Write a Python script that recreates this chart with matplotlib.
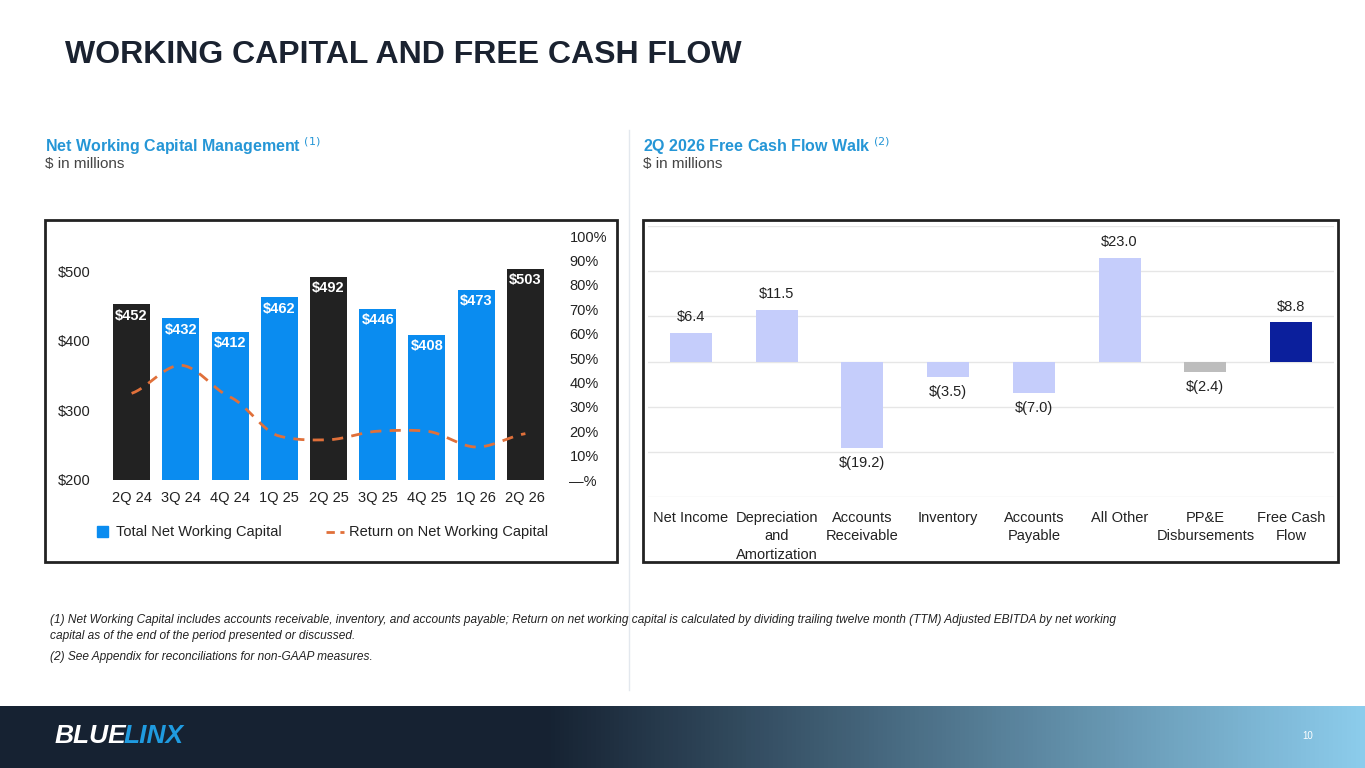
import numpy as np
import matplotlib
matplotlib.use("Agg")
import matplotlib.pyplot as plt
from matplotlib.patches import Rectangle

plt.rcParams['font.family'] = ['Liberation Sans', 'DejaVu Sans']

quarters = ["2Q 24", "3Q 24", "4Q 24", "1Q 25", "2Q 25", "3Q 25", "4Q 25", "1Q 26", "2Q 26"]
nwc = [452, 432, 412, 462, 492, 446, 408, 473, 503]
ronwc = [35.5, 47, 34, 18, 16.5, 20, 20, 13.5, 19]
highlight = [True, False, False, False, True, False, False, False, True]

walk_cats = ["Net Income", "Depreciation\nand\nAmortization", "Accounts\nReceivable", "Inventory",
             "Accounts\nPayable", "All Other", "PP&E\nDisbursements", "Free Cash\nFlow"]
walk_vals = [6.4, 11.5, -19.2, -3.5, -7.0, 23.0, -2.4, 8.8]

W, H = 1365, 768
fig = plt.figure(figsize=(W/100, H/100), dpi=100)

def ax_px(x0, y0, x1, y1, **kw):
    return fig.add_axes([x0/W, 1-y1/H, (x1-x0)/W, (y1-y0)/H], **kw)

# background
bg = ax_px(0, 0, W, H)
bg.set_xlim(0, W); bg.set_ylim(H, 0); bg.axis('off')
grad = np.linspace(0, 1, 300)
c0 = np.array([0x16, 0x22, 0x32]) / 255
c1 = np.array([0x8c, 0xcc, 0xec]) / 255
t = np.clip((grad - 0.4) / 0.6, 0, 1)
cols = c0[None, :] * (1 - t[:, None]) + c1[None, :] * t[:, None]
bg.imshow(cols[None, :, :], extent=[0, W, 768, 706], aspect='auto', zorder=0)
bg.set_xlim(0, W); bg.set_ylim(H, 0)
bg.text(55, 736, "BLUE", color='white', fontsize=19, fontweight='bold', style='italic', va='center')
bg.text(124, 736, "LINX", color='#1f9be0', fontsize=19, fontweight='bold', style='italic', va='center')
bg.text(1302, 736, "10", color='white', fontsize=7, va='center')
bg.text(65, 55, "WORKING CAPITAL AND FREE CASH FLOW", fontsize=23, fontweight='bold', color='#1a2230', va='center')
bg.text(45, 146, "Net Working Capital Management $^{(1)}$", fontsize=11.5, fontweight='bold', color='#2596d6', va='center')
bg.text(45, 164, "$ in millions", fontsize=11, color='#444444', va='center')
bg.text(643, 146, "2Q 2026 Free Cash Flow Walk $^{(2)}$", fontsize=11.5, fontweight='bold', color='#2596d6', va='center')
bg.text(643, 164, "$ in millions", fontsize=11, color='#444444', va='center')
bg.plot([629, 629], [130, 690], color='#e3e8ee', lw=1)
bg.add_patch(Rectangle((45, 220), 572, 342, fill=False, ec='#222222', lw=2))
bg.add_patch(Rectangle((643, 220), 695, 342, fill=False, ec='#222222', lw=2))
bg.text(50, 614, "(1) Net Working Capital includes accounts receivable, inventory, and accounts payable; Return on net working capital is calculated by dividing trailing twelve month (TTM) Adjusted EBITDA by net working\ncapital as of the end of the period presented or discussed.",
        fontsize=8.6, style='italic', color='#222222', va='top', linespacing=1.5)
bg.text(50, 651, "(2) See Appendix for reconciliations for non-GAAP measures.", fontsize=8.6, style='italic', color='#222222', va='top')

# left chart
ax = ax_px(107, 224, 550, 480)
x = np.arange(len(quarters))
colors = ['#222222' if h else '#0a8cf0' for h in highlight]
ax.bar(x, [v - 200 for v in nwc], bottom=200, width=0.75, color=colors, zorder=2)
for xi, v in zip(x, nwc):
    ax.text(xi, v - 6, f"${v}", ha='center', va='top', color='white', fontsize=10.5, fontweight='bold', zorder=3)
ax.set_ylim(200, 200 + 300 * (480 - 224) / (480 - 271))
ax.set_xlim(-0.5, len(quarters) - 0.5)
ax.set_yticks([200, 300, 400, 500])
ax.set_yticklabels(["$200", "$300", "$400", "$500"])
ax.set_xticks(x)
ax.set_xticklabels(quarters)
for s in ax.spines.values():
    s.set_visible(False)
ax.tick_params(length=0, labelsize=10.5, colors='#222222')
ax.tick_params(axis='y', pad=12)
ax.tick_params(axis='x', pad=8)
ax.patch.set_alpha(0)
ax2 = ax.twinx()
xs, ys = [], []
m = np.gradient(np.array(ronwc, float))
for i in range(len(ronwc) - 1):
    tt = np.linspace(0, 1, 30)
    h00 = 2*tt**3 - 3*tt**2 + 1; h10 = tt**3 - 2*tt**2 + tt
    h01 = -2*tt**3 + 3*tt**2; h11 = tt**3 - tt**2
    xs.extend(i + tt); ys.extend(h00*ronwc[i] + h10*m[i]*0.6 + h01*ronwc[i+1] + h11*m[i+1]*0.6)
ax2.plot(xs, ys, color='#e0703a', lw=2, ls=(0, (4, 3)), zorder=4)
ax2.set_ylim(0, 100 / (480 - 236) * (480 - 224))
ax2.set_yticks(range(0, 101, 10))
ax2.set_yticklabels(["—%"] + [f"{v}%" for v in range(10, 101, 10)])
for s in ax2.spines.values():
    s.set_visible(False)
ax2.tick_params(length=0, labelsize=10.5, colors='#222222', pad=14)
bg.add_patch(Rectangle((97, 526), 11, 11, color='#0a8cf0'))
bg.text(116, 532, "Total Net Working Capital", fontsize=10.5, va='center', color='#222222')
bg.plot([326, 344], [532, 532], color='#e0703a', lw=2, ls=(0, (3, 2)))
bg.text(349, 532, "Return on Net Working Capital", fontsize=10.5, va='center', color='#222222')

# right chart
ax3 = ax_px(648, 226, 1334, 497)
xw = np.arange(len(walk_cats))
wcol = ['#c5cdfb'] * 6 + ['#bdbdbd', '#0b1f9c']
ax3.bar(xw, walk_vals, width=0.49, color=wcol, zorder=2)
for xi, v in zip(xw, walk_vals):
    lab = f"${v:.1f}" if v >= 0 else f"$({-v:.1f})"
    if v >= 0:
        ax3.text(xi, v + 1.8, lab, ha='center', va='bottom', fontsize=10.5, color='#222222')
    else:
        ax3.text(xi, v - 1.8, lab, ha='center', va='top', fontsize=10.5, color='#222222')
ax3.set_ylim(-30, 30)
ax3.set_xlim(-0.5, len(walk_cats) - 0.5)
ax3.set_yticks(range(-30, 31, 10))
ax3.set_yticklabels([])
ax3.grid(axis='y', color='#e6e6e6', lw=1, zorder=0)
for s in ax3.spines.values():
    s.set_visible(False)
ax3.set_xticks(xw)
ax3.set_xticklabels(walk_cats, fontsize=10.5, color='#222222', linespacing=1.4, va='top')
ax3.tick_params(length=0, pad=10)

fig.savefig("out.png", dpi=100)
